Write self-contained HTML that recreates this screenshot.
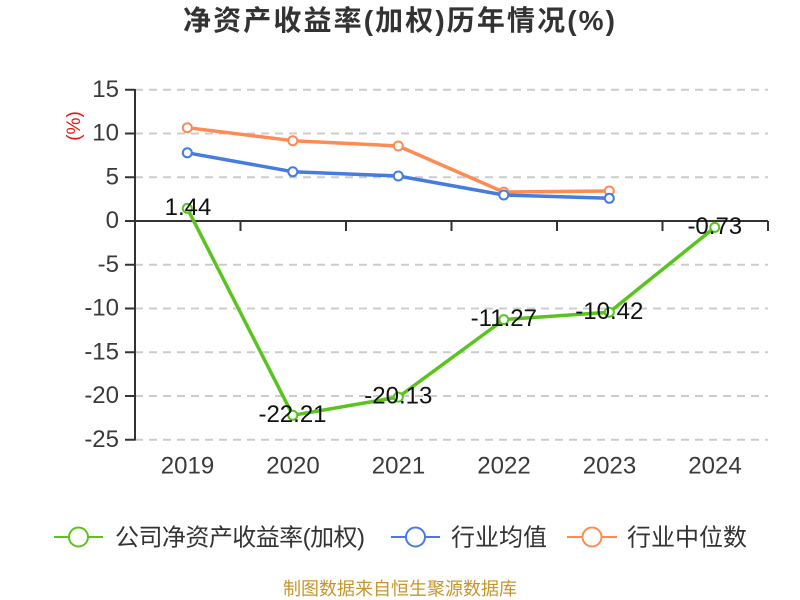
<!DOCTYPE html>
<html>
<head>
<meta charset="utf-8">
<style>
html,body{margin:0;padding:0;background:#fff;}
svg{display:block;}
text{font-family:"Liberation Sans","Noto Sans CJK SC",sans-serif;}
</style>
</head>
<body>
<svg width="800" height="600" viewBox="0 0 800 600" xmlns="http://www.w3.org/2000/svg">
  <rect width="800" height="600" fill="#fff"/>
  <!-- title -->
  <text x="399" y="30" text-anchor="middle" font-size="28" font-weight="bold" fill="#333" textLength="432" lengthAdjust="spacing">净资产收益率(加权)历年情况(%)</text>

  <!-- grid lines -->
  <g stroke="#cccccc" stroke-width="2" stroke-dasharray="8,6" fill="none">
    <line x1="135" y1="89.75" x2="768" y2="89.75"/>
    <line x1="135" y1="133.5" x2="768" y2="133.5"/>
    <line x1="135" y1="177.25" x2="768" y2="177.25"/>
    <line x1="135" y1="264.75" x2="768" y2="264.75"/>
    <line x1="135" y1="308.5" x2="768" y2="308.5"/>
    <line x1="135" y1="352.25" x2="768" y2="352.25"/>
    <line x1="135" y1="396" x2="768" y2="396"/>
    <line x1="135" y1="439.75" x2="768" y2="439.75"/>
  </g>

  <!-- axes -->
  <g stroke="#333" stroke-width="2" fill="none">
    <line x1="135" y1="89" x2="135" y2="440.5"/>
    <line x1="134" y1="221" x2="768" y2="221"/>
    <line x1="125" y1="89.75" x2="135" y2="89.75"/>
    <line x1="125" y1="133.5" x2="135" y2="133.5"/>
    <line x1="125" y1="177.25" x2="135" y2="177.25"/>
    <line x1="125" y1="221" x2="135" y2="221"/>
    <line x1="125" y1="264.75" x2="135" y2="264.75"/>
    <line x1="125" y1="308.5" x2="135" y2="308.5"/>
    <line x1="125" y1="352.25" x2="135" y2="352.25"/>
    <line x1="125" y1="396" x2="135" y2="396"/>
    <line x1="125" y1="439.75" x2="135" y2="439.75"/>
    <line x1="135" y1="221" x2="135" y2="231"/>
    <line x1="240.5" y1="221" x2="240.5" y2="231"/>
    <line x1="346" y1="221" x2="346" y2="231"/>
    <line x1="451.5" y1="221" x2="451.5" y2="231"/>
    <line x1="557" y1="221" x2="557" y2="231"/>
    <line x1="662.5" y1="221" x2="662.5" y2="231"/>
    <line x1="768" y1="221" x2="768" y2="231"/>
  </g>

  <!-- y labels -->
  <g font-size="24" fill="#3a3a3a" text-anchor="end">
    <text x="119" y="97">15</text>
    <text x="119" y="140.5">10</text>
    <text x="119" y="184.5">5</text>
    <text x="119" y="228">0</text>
    <text x="119" y="272">-5</text>
    <text x="119" y="315.5">-10</text>
    <text x="119" y="359.5">-15</text>
    <text x="119" y="403">-20</text>
    <text x="119" y="447">-25</text>
  </g>
  <text x="0" y="0" font-size="19" fill="#ee1111" text-anchor="middle" transform="translate(80,126) rotate(-90)">(%)</text>

  <!-- x labels -->
  <g font-size="24" fill="#3a3a3a" text-anchor="middle">
    <text x="187.5" y="473.5">2019</text>
    <text x="293" y="473.5">2020</text>
    <text x="398.5" y="473.5">2021</text>
    <text x="504" y="473.5">2022</text>
    <text x="609.5" y="473.5">2023</text>
    <text x="715" y="473.5">2024</text>
  </g>

  <!-- orange series -->
  <polyline fill="none" stroke="#fd8b53" stroke-width="3.5" stroke-linejoin="round" points="187.3,127.7 292.8,140.7 398.3,146 503.8,192.1 609.3,191"/>
  <!-- blue series -->
  <polyline fill="none" stroke="#467ce0" stroke-width="3.5" stroke-linejoin="round" points="187.3,152.8 292.8,171.7 398.3,176 503.8,195 609.3,198.3"/>
  <g fill="#fff" stroke="#fd8b53" stroke-width="2">
    <circle cx="187.3" cy="127.7" r="4.5"/>
    <circle cx="292.8" cy="140.7" r="4.5"/>
    <circle cx="398.3" cy="146" r="4.5"/>
    <circle cx="503.8" cy="192.1" r="4.5"/>
    <circle cx="609.3" cy="191" r="4.5"/>
  </g>
  <g fill="#fff" stroke="#467ce0" stroke-width="2">
    <circle cx="187.3" cy="152.8" r="4.5"/>
    <circle cx="292.8" cy="171.7" r="4.5"/>
    <circle cx="398.3" cy="176" r="4.5"/>
    <circle cx="503.8" cy="195" r="4.5"/>
    <circle cx="609.3" cy="198.3" r="4.5"/>
  </g>

  <!-- green series -->
  <polyline fill="none" stroke="#5ac31f" stroke-width="3.5" stroke-linejoin="round" points="187.3,208.4 292.8,415.3 398.3,397.1 503.8,319.6 609.3,312.2 714.8,227.4"/>
  <g fill="#fff" stroke="#5ac31f" stroke-width="2">
    <circle cx="187.3" cy="208.4" r="4.5"/>
    <circle cx="292.8" cy="415.3" r="4.5"/>
    <circle cx="398.3" cy="397.1" r="4.5"/>
    <circle cx="503.8" cy="319.6" r="4.5"/>
    <circle cx="609.3" cy="312.2" r="4.5"/>
    <circle cx="714.8" cy="227.4" r="4.5"/>
  </g>

  <!-- data labels -->
  <g font-size="24" fill="#111" text-anchor="middle">
    <text x="188" y="215">1.44</text>
    <text x="292.5" y="421.8">-22.21</text>
    <text x="398.3" y="403.6">-20.13</text>
    <text x="503.8" y="325.8">-11.27</text>
    <text x="609.3" y="319">-10.42</text>
    <text x="714.8" y="234">-0.73</text>
  </g>

  <!-- legend -->
  <g stroke-width="2" fill="#fff">
    <line x1="54" y1="537" x2="103" y2="537" stroke="#5ac31f"/>
    <circle cx="78.5" cy="537" r="9.5" stroke="#5ac31f"/>
    <line x1="391" y1="537" x2="440" y2="537" stroke="#467ce0"/>
    <circle cx="415.5" cy="537" r="9.5" stroke="#467ce0"/>
    <line x1="567" y1="537" x2="617" y2="537" stroke="#fd8b53"/>
    <circle cx="592" cy="537" r="9.5" stroke="#fd8b53"/>
  </g>
  <g font-size="24" fill="#333">
    <text x="115" y="545.5" textLength="250" lengthAdjust="spacing">公司净资产收益率(加权)</text>
    <text x="451" y="545.5">行业均值</text>
    <text x="627" y="545.5">行业中位数</text>
  </g>

  <!-- footer -->
  <text x="400" y="595" text-anchor="middle" font-size="18" fill="#c8952b">制图数据来自恒生聚源数据库</text>
</svg>
</body>
</html>
